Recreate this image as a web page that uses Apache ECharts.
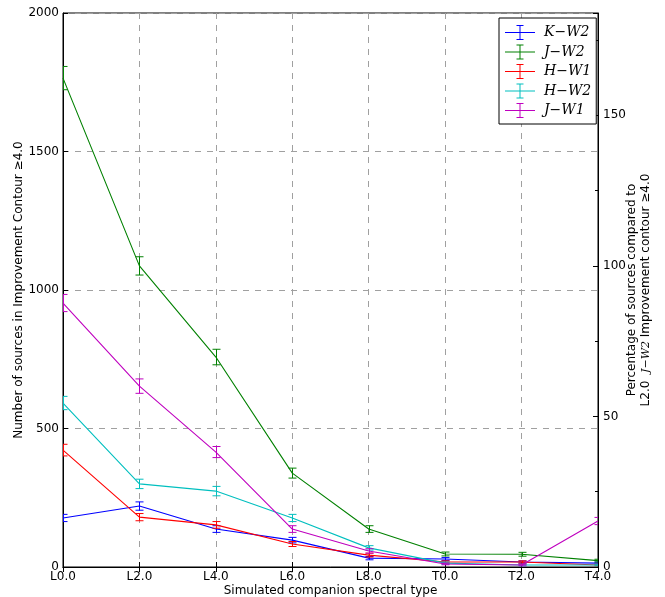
<!DOCTYPE html>
<html><head><meta charset="utf-8">
<script src="https://cdn.jsdelivr.net/npm/echarts@6/dist/echarts.min.js"></script>
<style>html,body{margin:0;padding:0;background:#fff}#c{width:665px;height:597px}</style>
</head><body><div id="c"></div>
<script>
const categories = ['L0.0','L2.0','L4.0','L6.0','L8.0','T0.0','T2.0','T4.0'];
const seriesNames = ['K\u2212W2','J\u2212W2','H\u2212W1','H\u2212W2','J\u2212W1'];
const colors = ['#0000ff','#008000','#ff0000','#00bfbf','#bf00bf'];
const kw2 = [177, 220, 137, 97, 32, 29, 18, 14];
const jw2 = [1765, 1087, 758, 339, 137, 47, 46, 23];
const hw1 = [422, 180, 152, 83, 43, 18, 18, 7];
const hw2 = [592, 300, 274, 177, 69, 14, 7, 7];
const jw1 = [953, 653, 415, 137, 58, 11, 7, 166];
const kw2Err = [13, 15, 12, 10, 6, 5, 4, 4];
const jw2Err = [42, 33, 28, 18, 12, 7, 7, 5];
const hw1Err = [21, 13, 12, 9, 7, 4, 4, 3];
const hw2Err = [24, 17, 17, 13, 8, 4, 3, 3];
const jw1Err = [31, 26, 20, 12, 8, 3, 3, 13];
const leftTicks = [0, 500, 1000, 1500, 2000];
const rightTicks = [0, 50, 100, 150];

const values = [kw2, jw2, hw1, hw2, jw1];
const errs = [kw2Err, jw2Err, hw1Err, hw2Err, jw1Err];
const leftMax = 2000;
const rightMax = leftMax / jw2[1] * 100;

const errIcon = 'path://M0,7L30,7L30,8L0,8Z M14.5,0L15.5,0L15.5,15L14.5,15Z M11.5,0L18.5,0L18.5,1L11.5,1Z M11.5,14L18.5,14L18.5,15L11.5,15Z';

const series = [];
values.forEach((v, k) => {
  series.push({
    name: seriesNames[k], type: 'line', data: v, symbol: 'none', showSymbol: false,
    lineStyle: {color: colors[k], width: 1.1}, itemStyle: {color: colors[k]},
    z: 3 + k, animation: false
  });
});
values.forEach((v, k) => {
  series.push({
    name: 'err' + k, type: 'custom', z: 3 + k, animation: false, clip: true,
    data: v.map((y, i) => [i, y - errs[k][i], y + errs[k][i]]),
    renderItem: function (params, api) {
      const lo = api.coord([api.value(0), api.value(1)]);
      const hi = api.coord([api.value(0), api.value(2)]);
      const x = Math.round(lo[0]) + 0.5;
      const st = {stroke: colors[k], lineWidth: 1};
      return {type: 'group', children: [
        {type: 'line', shape: {x1: x, y1: lo[1], x2: x, y2: hi[1]}, style: st},
        {type: 'line', shape: {x1: x - 4, y1: lo[1], x2: x + 4, y2: lo[1]}, style: st},
        {type: 'line', shape: {x1: x - 4, y1: hi[1], x2: x + 4, y2: hi[1]}, style: st}
      ]};
    }
  });
});

const chart = echarts.init(document.getElementById('c'), null, {renderer: 'canvas'});
const font = 'DejaVu Sans';
chart.setOption({
  backgroundColor: '#fff',
  animation: false,
  grid: {left: 63, right: 67, top: 13, bottom: 30, containLabel: false, outerBoundsMode: 'none',
    show: true, borderColor: '#000', borderWidth: 1, backgroundColor: 'transparent'},
  legend: {
    data: seriesNames, orient: 'vertical', left: 499, top: 18,
    padding: [7, 5, 6, 6], itemGap: 4.5,
    itemWidth: 30, itemHeight: 15, icon: errIcon,
    backgroundColor: '#fff', borderColor: '#000', borderWidth: 1, borderRadius: 0,
    textStyle: {fontFamily: 'DejaVu Serif', fontStyle: 'italic', fontSize: 14, color: '#000', padding: [0, 0, 0, 4]}
  },
  xAxis: [{
    type: 'category', data: categories, boundaryGap: false,
    axisLine: {show: true, lineStyle: {color: '#000'}},
    axisTick: {show: true, inside: true, length: 5, alignWithLabel: true, lineStyle: {color: '#000'}},
    axisLabel: {fontFamily: font, fontSize: 12, color: '#000', margin: 4, interval: 0},
    splitLine: {show: true, lineStyle: {color: '#a0a0a0', type: [6, 6], width: 1}},
    name: 'Simulated companion spectral type', nameLocation: 'middle', nameGap: 18, nameMoveOverlap: false,
    nameTextStyle: {fontFamily: font, fontSize: 12, color: '#000'}
  }, {
    type: 'category', data: categories, boundaryGap: false, position: 'top',
    axisLine: {show: true, lineStyle: {color: '#000'}},
    axisTick: {show: true, inside: true, length: 5, lineStyle: {color: '#000'}},
    axisLabel: {show: false}, splitLine: {show: false}
  }],
  yAxis: [{
    type: 'value', min: 0, max: leftMax, interval: 500, position: 'left',
    axisLine: {show: true, lineStyle: {color: '#000'}},
    axisTick: {show: true, inside: true, length: 5, lineStyle: {color: '#000'}},
    axisLabel: {fontFamily: font, fontSize: 12, color: '#000', margin: 4,
      formatter: v => leftTicks.includes(v) ? String(v) : ''},
    splitLine: {show: true, lineStyle: {color: '#a0a0a0', type: [6, 6], width: 1}},
    name: 'Number of sources in Improvement Contour \u22654.0', nameLocation: 'middle', nameGap: 38, nameMoveOverlap: false,
    nameTextStyle: {fontFamily: font, fontSize: 12, color: '#000'}
  }, {
    type: 'value', min: 0, max: rightMax, interval: 50, position: 'right',
    axisLine: {show: true, lineStyle: {color: '#000'}},
    axisTick: {show: true, inside: true, length: 5, lineStyle: {color: '#000'}},
    minorTick: {show: true, splitNumber: 2, length: 3, lineStyle: {color: '#000'}},
    axisLabel: {fontFamily: font, fontSize: 12, color: '#000', margin: 5, showMaxLabel: false,
      formatter: v => rightTicks.includes(v) ? String(v) : ''},
    splitLine: {show: false},
    name: '{n|Percentage of sources compared to}\n{n|L2.0  }{i|J\u2212W2}{n| Improvement contour \u22654.0}',
    nameLocation: 'middle', nameGap: 27, nameRotate: 90, nameMoveOverlap: false,
    nameTextStyle: {fontFamily: font, fontSize: 12, color: '#000', lineHeight: 14,
      rich: {n: {fontFamily: font, fontSize: 12, color: '#000'}, i: {fontFamily: 'DejaVu Serif', fontStyle: 'italic', fontSize: 11, color: '#000'}}}
  }],
  series: series
});
</script></body></html>
